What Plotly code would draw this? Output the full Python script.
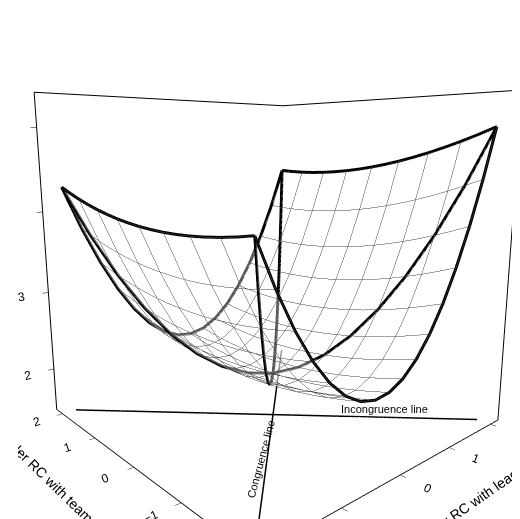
import numpy as np
import plotly.graph_objects as go

# response surface coefficients: b0, M, L, M^2, M*L, L^2
coefs = [2.0, 0.125, -0.05, 0.5625, -0.05, 0.05]
grid = np.linspace(-2, 2, 17)
ticks = [-2, -1, 0, 1, 2]
z_ticks = [2, 3, 4, 5]
z_floor = 1.45

def surf(m, l):
    b = coefs
    return b[0] + b[1]*m + b[2]*l + b[3]*m**2 + b[4]*m*l + b[5]*l**2

M, L = np.meshgrid(grid, grid)
Z = surf(M, L)

fig = go.Figure()
fig.add_trace(go.Surface(x=M, y=L, z=Z, colorscale=[[0, 'white'], [1, 'white']],
                         showscale=False, opacity=0.35,
                         lighting=dict(ambient=1, diffuse=0, specular=0),
                         contours=dict(x=dict(show=True, color='#444', width=1, start=-2, end=2, size=0.25),
                                       y=dict(show=True, color='#444', width=1, start=-2, end=2, size=0.5))))

def line(xs, ys, zs, w=6, dash='solid'):
    fig.add_trace(go.Scatter3d(x=xs, y=ys, z=zs, mode='lines', showlegend=False,
                               line=dict(color='black', width=w, dash=dash)))

lo, hi = grid[0], grid[-1]
# surface edges
line(grid, [lo]*len(grid), surf(grid, lo))
line(grid, [hi]*len(grid), surf(grid, hi))
line([lo]*len(grid), grid, surf(lo, grid))
line([hi]*len(grid), grid, surf(hi, grid))
# congruence / incongruence curves on surface
line(grid, grid, surf(grid, grid))
line(grid, -grid, surf(grid, -grid))
# floor lines
line([lo, hi], [lo, hi], [z_floor, z_floor], w=3)
line([lo, hi], [hi, lo], [z_floor, z_floor], w=3)

ax = dict(showbackground=False, showgrid=False, zeroline=False, showline=True, mirror=True,
          linecolor='black', linewidth=2, ticks='outside', tickcolor='black',
          tickfont=dict(size=12, color='black'), range=[-2.2, 2.2], tickvals=ticks)
fig.update_layout(
    width=520, height=519, margin=dict(l=10, r=0, t=0, b=0),
    paper_bgcolor='white', font=dict(family='Liberation Sans', color='black'),
    scene=dict(
        xaxis=dict(ax, title=dict(text='Member RC with leader', font=dict(size=14))),
        yaxis=dict(ax, title=dict(text='Leader RC with team member', font=dict(size=14))),
        zaxis=dict(ax, range=[z_floor, 5.4], tickvals=z_ticks,
                   title=dict(text='Team Creativity', font=dict(size=14))),
        aspectmode='manual', aspectratio=dict(x=1, y=1, z=1.0),
        camera=dict(eye=dict(x=-1.25, y=-1.4, z=0.35), center=dict(x=0, y=0, z=-0.02),
                    projection=dict(type='perspective')),
        annotations=[
            dict(x=-0.9, y=-0.9, z=z_floor, text='Congruence line', showarrow=False,
                 textangle=-75, font=dict(size=11), xshift=-6),
            dict(x=1.1, y=-1.1, z=z_floor, text='Incongruence line', showarrow=False,
                 font=dict(size=11), yshift=8),
        ],
    ),
)
fig.write_html("out.html")
